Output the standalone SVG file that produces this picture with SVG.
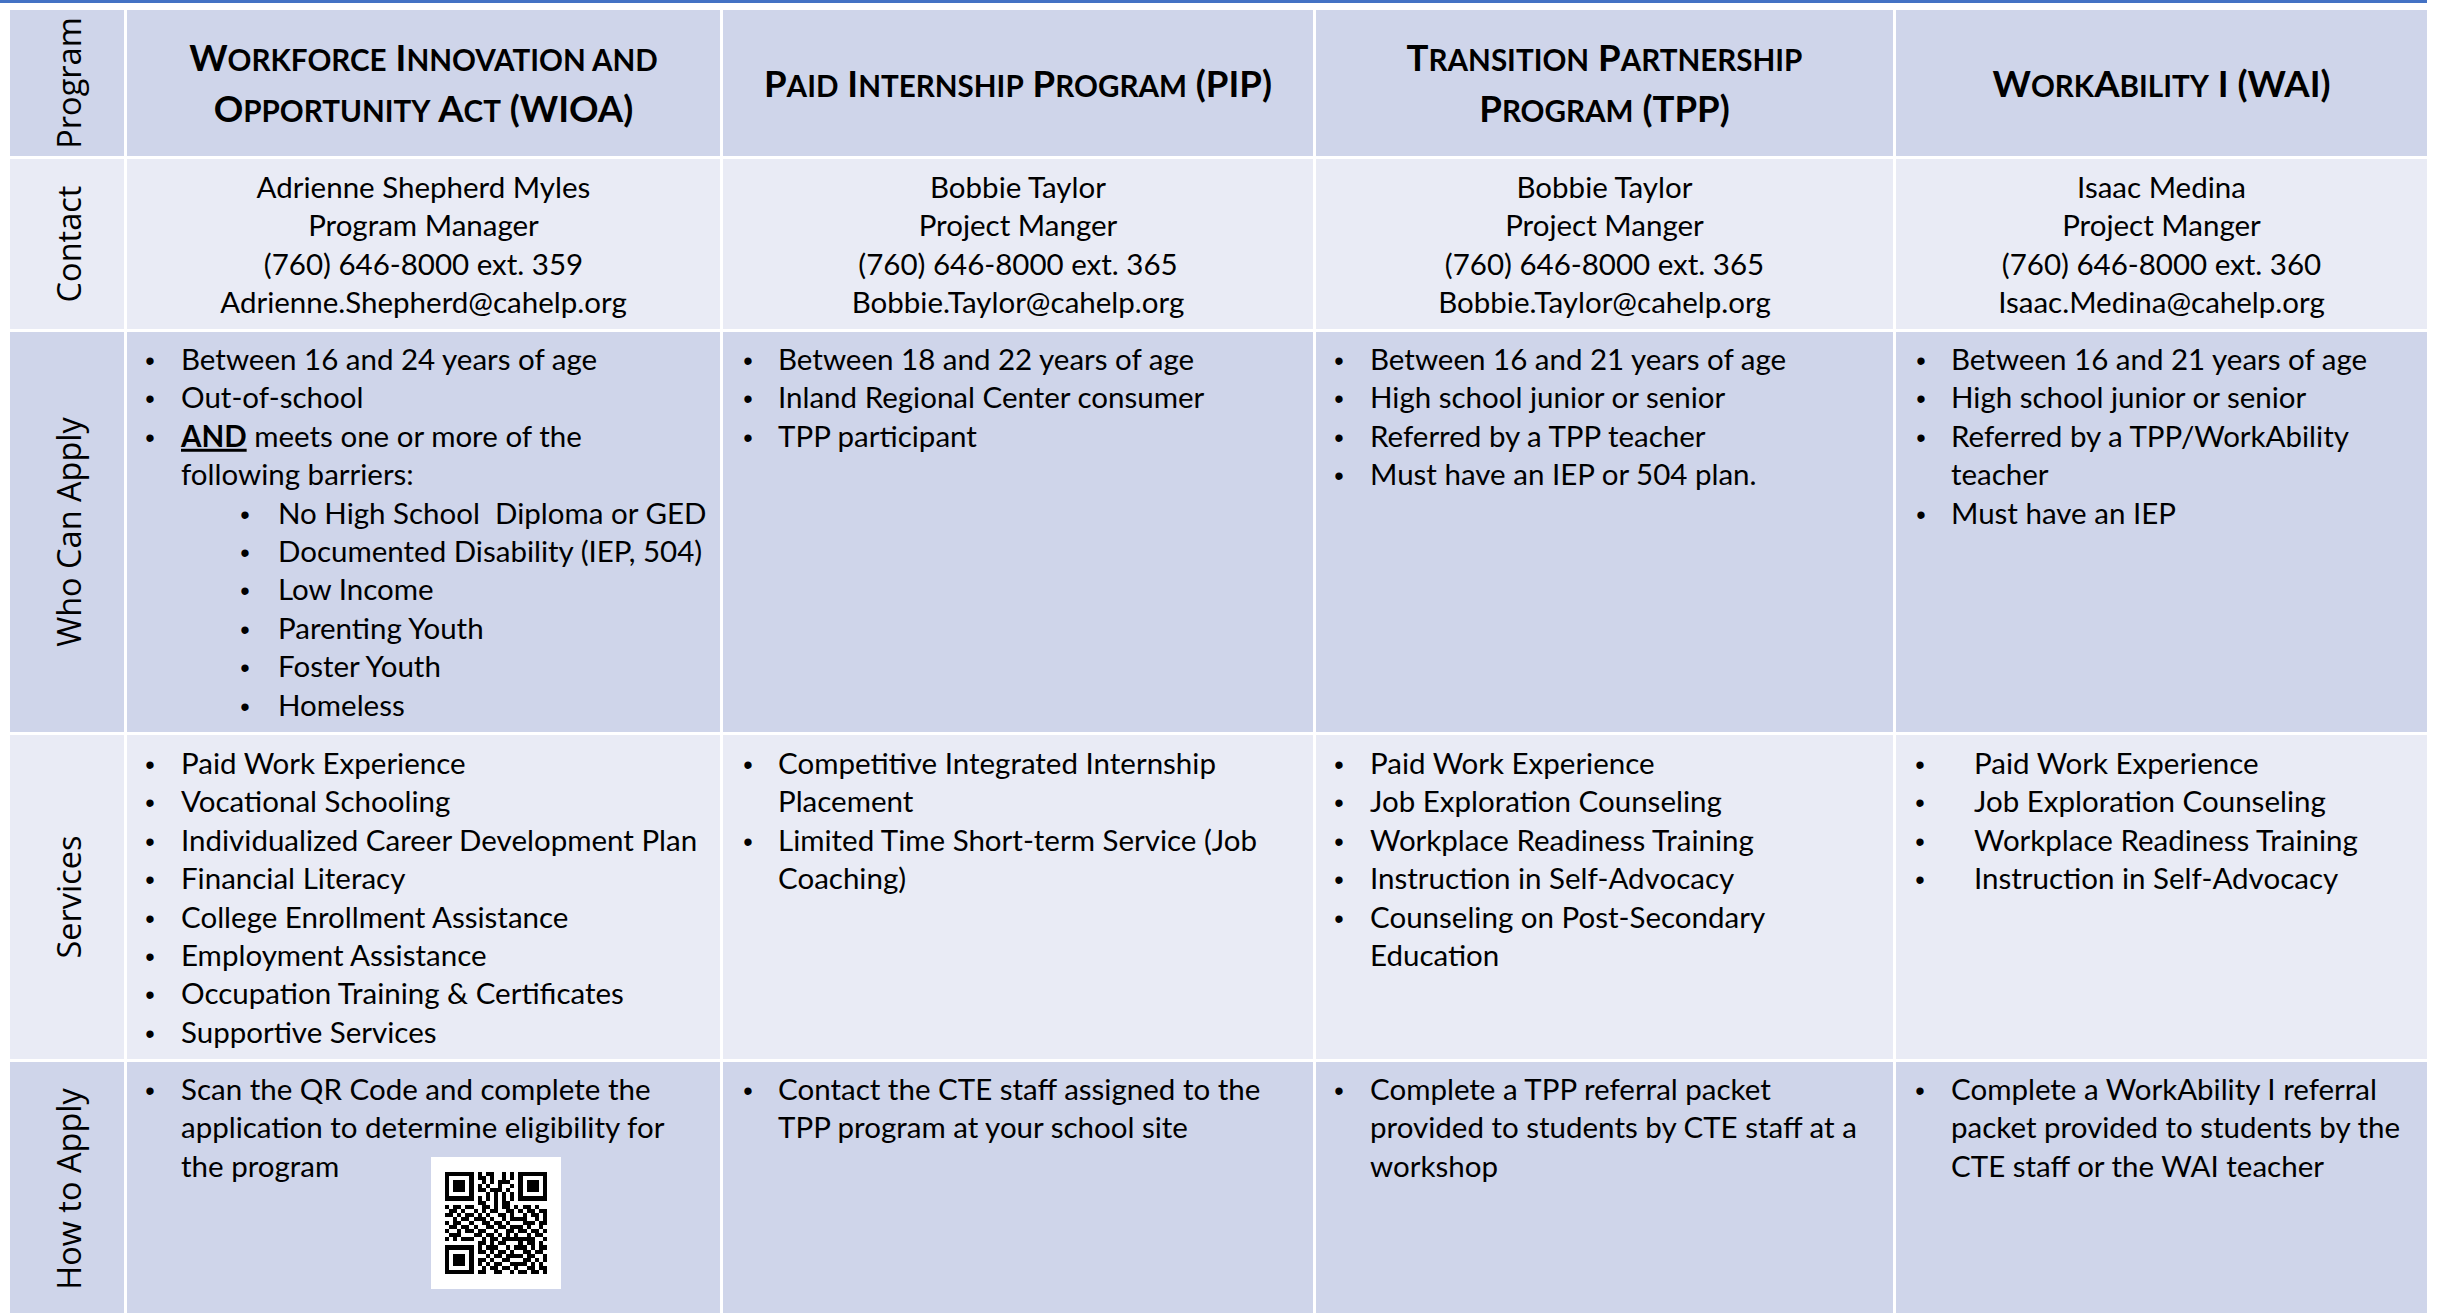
<svg xmlns="http://www.w3.org/2000/svg" width="2438" height="1313" viewBox="0 0 2438 1313">
<style>
.dk{fill:#CFD5EA}
.lt{fill:#E9EBF5}
.t{font-family:Lato,"Liberation Sans",sans-serif;font-size:29.5px;fill:#000}
.c{text-anchor:middle}
.b{font-family:"Liberation Sans",Arial,sans-serif;font-size:27px;fill:#000;text-anchor:middle}
.h{font-family:Lato,"Liberation Sans",sans-serif;font-weight:700;font-size:36.6px;fill:#000;text-anchor:middle}
.sc{font-size:29.6px}
.lbl{font-family:"Open Sans","DejaVu Sans",sans-serif;font-size:32.5px;fill:#000;text-anchor:middle}
.u{font-weight:700;text-decoration:underline}
</style>
<rect x="0" y="0" width="2438" height="1313" fill="#FFFFFF"/>
<rect x="0" y="0" width="2427" height="3" fill="#4472C4"/>

<g id="row-program">
  <rect class="dk" x="10" y="10" width="114" height="146"/>
  <text class="lbl" transform="translate(81,83) rotate(-90)">Program</text>
</g>
<g id="hdr-wioa">
  <rect class="dk" x="127" y="10" width="593" height="146"/>
  <text class="h" x="423.5" y="71">W<tspan class="sc">ORKFORCE</tspan> I<tspan class="sc">NNOVATION AND</tspan></text>
  <text class="h" x="423.5" y="122">O<tspan class="sc">PPORTUNITY</tspan> A<tspan class="sc">CT</tspan> (WIOA)</text>
</g>
<g id="hdr-pip">
  <rect class="dk" x="723" y="10" width="590" height="146"/>
  <text class="h" x="1018" y="97">P<tspan class="sc">AID</tspan> I<tspan class="sc">NTERNSHIP</tspan> P<tspan class="sc">ROGRAM</tspan> (PIP)</text>
</g>
<g id="hdr-tpp">
  <rect class="dk" x="1316" y="10" width="577" height="146"/>
  <text class="h" x="1604.5" y="71">T<tspan class="sc">RANSITION</tspan> P<tspan class="sc">ARTNERSHIP</tspan></text>
  <text class="h" x="1604.5" y="122">P<tspan class="sc">ROGRAM</tspan> (TPP)</text>
</g>
<g id="hdr-wai">
  <rect class="dk" x="1896" y="10" width="531" height="146"/>
  <text class="h" x="2161.5" y="97">W<tspan class="sc">ORK</tspan>A<tspan class="sc">BILITY</tspan> I (WAI)</text>
</g>

<g id="row-contact">
  <rect class="lt" x="10" y="159" width="114" height="170"/>
  <text class="lbl" transform="translate(81,244) rotate(-90)">Contact</text>
</g>
<g id="contact-wioa">
  <rect class="lt" x="127" y="159" width="593" height="170"/>
  <text class="t c" x="423.5" y="198">Adrienne Shepherd Myles</text>
  <text class="t c" x="423.5" y="236.4">Program Manager</text>
  <text class="t c" x="423.5" y="274.8">(760) 646-8000 ext. 359</text>
  <text class="t c" x="423.5" y="313.2">Adrienne.Shepherd@cahelp.org</text>
</g>
<g id="contact-pip">
  <rect class="lt" x="723" y="159" width="590" height="170"/>
  <text class="t c" x="1018" y="198">Bobbie Taylor</text>
  <text class="t c" x="1018" y="236.4">Project Manger</text>
  <text class="t c" x="1018" y="274.8">(760) 646-8000 ext. 365</text>
  <text class="t c" x="1018" y="313.2">Bobbie.Taylor@cahelp.org</text>
</g>
<g id="contact-tpp">
  <rect class="lt" x="1316" y="159" width="577" height="170"/>
  <text class="t c" x="1604.5" y="198">Bobbie Taylor</text>
  <text class="t c" x="1604.5" y="236.4">Project Manger</text>
  <text class="t c" x="1604.5" y="274.8">(760) 646-8000 ext. 365</text>
  <text class="t c" x="1604.5" y="313.2">Bobbie.Taylor@cahelp.org</text>
</g>
<g id="contact-wai">
  <rect class="lt" x="1896" y="159" width="531" height="170"/>
  <text class="t c" x="2161.5" y="198">Isaac Medina</text>
  <text class="t c" x="2161.5" y="236.4">Project Manger</text>
  <text class="t c" x="2161.5" y="274.8">(760) 646-8000 ext. 360</text>
  <text class="t c" x="2161.5" y="313.2">Isaac.Medina@cahelp.org</text>
</g>

<g id="row-who">
  <rect class="dk" x="10" y="332" width="114" height="400"/>
  <text class="lbl" transform="translate(81,532) rotate(-90)">Who Can Apply</text>
</g>
<g id="who-wioa">
  <rect class="dk" x="127" y="332" width="593" height="400"/>
  <text class="b" x="150" y="370">•</text><text class="t" x="181" y="370">Between 16 and 24 years of age</text>
  <text class="b" x="150" y="408.4">•</text><text class="t" x="181" y="408.4">Out-of-school</text>
  <text class="b" x="150" y="446.8">•</text><text class="t" x="181" y="446.8"><tspan class="u">AND</tspan> meets one or more of the</text>
  <text class="t" x="181" y="485.2">following barriers:</text>
  <text class="b" x="245" y="523.6">•</text><text class="t" x="278" y="523.6" xml:space="preserve">No High School  Diploma or GED</text>
  <text class="b" x="245" y="562">•</text><text class="t" x="278" y="562">Documented Disability (IEP, 504)</text>
  <text class="b" x="245" y="600.4">•</text><text class="t" x="278" y="600.4">Low Income</text>
  <text class="b" x="245" y="638.8">•</text><text class="t" x="278" y="638.8">Parenting Youth</text>
  <text class="b" x="245" y="677.2">•</text><text class="t" x="278" y="677.2">Foster Youth</text>
  <text class="b" x="245" y="715.6">•</text><text class="t" x="278" y="715.6">Homeless</text>
</g>
<g id="who-pip">
  <rect class="dk" x="723" y="332" width="590" height="400"/>
  <text class="b" x="748" y="370">•</text><text class="t" x="778" y="370">Between 18 and 22 years of age</text>
  <text class="b" x="748" y="408.4">•</text><text class="t" x="778" y="408.4">Inland Regional Center consumer</text>
  <text class="b" x="748" y="446.8">•</text><text class="t" x="778" y="446.8">TPP participant</text>
</g>
<g id="who-tpp">
  <rect class="dk" x="1316" y="332" width="577" height="400"/>
  <text class="b" x="1339" y="370">•</text><text class="t" x="1370" y="370">Between 16 and 21 years of age</text>
  <text class="b" x="1339" y="408.4">•</text><text class="t" x="1370" y="408.4">High school junior or senior</text>
  <text class="b" x="1339" y="446.8">•</text><text class="t" x="1370" y="446.8">Referred by a TPP teacher</text>
  <text class="b" x="1339" y="485.2">•</text><text class="t" x="1370" y="485.2">Must have an IEP or 504 plan.</text>
</g>
<g id="who-wai">
  <rect class="dk" x="1896" y="332" width="531" height="400"/>
  <text class="b" x="1921" y="370">•</text><text class="t" x="1951" y="370">Between 16 and 21 years of age</text>
  <text class="b" x="1921" y="408.4">•</text><text class="t" x="1951" y="408.4">High school junior or senior</text>
  <text class="b" x="1921" y="446.8">•</text><text class="t" x="1951" y="446.8">Referred by a TPP/WorkAbility</text>
  <text class="t" x="1951" y="485.2">teacher</text>
  <text class="b" x="1921" y="523.6">•</text><text class="t" x="1951" y="523.6">Must have an IEP</text>
</g>

<g id="row-services">
  <rect class="lt" x="10" y="735" width="114" height="324"/>
  <text class="lbl" transform="translate(81,897) rotate(-90)">Services</text>
</g>
<g id="svc-wioa">
  <rect class="lt" x="127" y="735" width="593" height="324"/>
  <text class="b" x="150" y="774">•</text><text class="t" x="181" y="774">Paid Work Experience</text>
  <text class="b" x="150" y="812.4">•</text><text class="t" x="181" y="812.4">Vocational Schooling</text>
  <text class="b" x="150" y="850.8">•</text><text class="t" x="181" y="850.8">Individualized Career Development Plan</text>
  <text class="b" x="150" y="889.2">•</text><text class="t" x="181" y="889.2">Financial Literacy</text>
  <text class="b" x="150" y="927.6">•</text><text class="t" x="181" y="927.6">College Enrollment Assistance</text>
  <text class="b" x="150" y="966">•</text><text class="t" x="181" y="966">Employment Assistance</text>
  <text class="b" x="150" y="1004.4">•</text><text class="t" x="181" y="1004.4">Occupation Training &amp; Certificates</text>
  <text class="b" x="150" y="1042.8">•</text><text class="t" x="181" y="1042.8">Supportive Services</text>
</g>
<g id="svc-pip">
  <rect class="lt" x="723" y="735" width="590" height="324"/>
  <text class="b" x="748" y="774">•</text><text class="t" x="778" y="774">Competitive Integrated Internship</text>
  <text class="t" x="778" y="812.4">Placement</text>
  <text class="b" x="748" y="850.8">•</text><text class="t" x="778" y="850.8">Limited Time Short-term Service (Job</text>
  <text class="t" x="778" y="889.2">Coaching)</text>
</g>
<g id="svc-tpp">
  <rect class="lt" x="1316" y="735" width="577" height="324"/>
  <text class="b" x="1339" y="774">•</text><text class="t" x="1370" y="774">Paid Work Experience</text>
  <text class="b" x="1339" y="812.4">•</text><text class="t" x="1370" y="812.4">Job Exploration Counseling</text>
  <text class="b" x="1339" y="850.8">•</text><text class="t" x="1370" y="850.8">Workplace Readiness Training</text>
  <text class="b" x="1339" y="889.2">•</text><text class="t" x="1370" y="889.2">Instruction in Self-Advocacy</text>
  <text class="b" x="1339" y="927.6">•</text><text class="t" x="1370" y="927.6">Counseling on Post-Secondary</text>
  <text class="t" x="1370" y="966">Education</text>
</g>
<g id="svc-wai">
  <rect class="lt" x="1896" y="735" width="531" height="324"/>
  <text class="b" x="1920" y="774">•</text><text class="t" x="1974" y="774">Paid Work Experience</text>
  <text class="b" x="1920" y="812.4">•</text><text class="t" x="1974" y="812.4">Job Exploration Counseling</text>
  <text class="b" x="1920" y="850.8">•</text><text class="t" x="1974" y="850.8">Workplace Readiness Training</text>
  <text class="b" x="1920" y="889.2">•</text><text class="t" x="1974" y="889.2">Instruction in Self-Advocacy</text>
</g>

<g id="row-how">
  <rect class="dk" x="10" y="1062" width="114" height="251"/>
  <text class="lbl" transform="translate(81,1189) rotate(-90)">How to Apply</text>
</g>
<g id="how-wioa">
  <rect class="dk" x="127" y="1062" width="593" height="251"/>
  <text class="b" x="150" y="1100">•</text><text class="t" x="181" y="1100">Scan the QR Code and complete the</text>
  <text class="t" x="181" y="1138.4">application to determine eligibility for</text>
  <text class="t" x="181" y="1176.8">the program</text>
  <rect x="431" y="1157" width="130" height="132" fill="#FFFFFF"/>
  <path transform="translate(445,1172) scale(4.08)" shape-rendering="crispEdges" fill="#000" d="M0 0h7v1h-7zM8 0h1v1h-1zM10 0h2v1h-2zM14 0h1v1h-1zM16 0h1v1h-1zM18 0h7v1h-7zM0 1h1v1h-1zM6 1h1v1h-1zM8 1h2v1h-2zM11 1h1v1h-1zM14 1h1v1h-1zM16 1h1v1h-1zM18 1h1v1h-1zM24 1h1v1h-1zM0 2h1v1h-1zM2 2h3v1h-3zM6 2h1v1h-1zM9 2h1v1h-1zM11 2h1v1h-1zM13 2h3v1h-3zM18 2h1v1h-1zM20 2h3v1h-3zM24 2h1v1h-1zM0 3h1v1h-1zM2 3h3v1h-3zM6 3h1v1h-1zM8 3h1v1h-1zM10 3h1v1h-1zM13 3h1v1h-1zM16 3h1v1h-1zM18 3h1v1h-1zM20 3h3v1h-3zM24 3h1v1h-1zM0 4h1v1h-1zM2 4h3v1h-3zM6 4h1v1h-1zM8 4h2v1h-2zM11 4h3v1h-3zM15 4h1v1h-1zM18 4h1v1h-1zM20 4h3v1h-3zM24 4h1v1h-1zM0 5h1v1h-1zM6 5h1v1h-1zM10 5h1v1h-1zM12 5h1v1h-1zM14 5h1v1h-1zM16 5h1v1h-1zM18 5h1v1h-1zM24 5h1v1h-1zM0 6h7v1h-7zM8 6h1v1h-1zM10 6h1v1h-1zM12 6h1v1h-1zM14 6h1v1h-1zM16 6h1v1h-1zM18 6h7v1h-7zM8 7h2v1h-2zM12 7h1v1h-1zM14 7h2v1h-2zM0 8h1v1h-1zM2 8h2v1h-2zM5 8h2v1h-2zM9 8h2v1h-2zM12 8h1v1h-1zM14 8h2v1h-2zM17 8h1v1h-1zM19 8h2v1h-2zM22 8h1v1h-1zM1 9h2v1h-2zM4 9h1v1h-1zM7 9h1v1h-1zM9 9h1v1h-1zM11 9h2v1h-2zM15 9h2v1h-2zM18 9h1v1h-1zM20 9h2v1h-2zM23 9h2v1h-2zM0 10h2v1h-2zM3 10h1v1h-1zM5 10h2v1h-2zM8 10h1v1h-1zM10 10h1v1h-1zM13 10h2v1h-2zM16 10h1v1h-1zM19 10h1v1h-1zM21 10h2v1h-2zM24 10h1v1h-1zM2 11h1v1h-1zM4 11h2v1h-2zM7 11h3v1h-3zM11 11h1v1h-1zM14 11h1v1h-1zM16 11h4v1h-4zM22 11h1v1h-1zM24 11h1v1h-1zM0 12h1v1h-1zM2 12h2v1h-2zM6 12h1v1h-1zM9 12h2v1h-2zM12 12h2v1h-2zM15 12h1v1h-1zM19 12h3v1h-3zM23 12h2v1h-2zM1 13h2v1h-2zM4 13h2v1h-2zM7 13h1v1h-1zM10 13h2v1h-2zM13 13h2v1h-2zM16 13h3v1h-3zM20 13h1v1h-1zM23 13h1v1h-1zM0 14h1v1h-1zM3 14h1v1h-1zM5 14h2v1h-2zM8 14h2v1h-2zM12 14h1v1h-1zM15 14h2v1h-2zM18 14h2v1h-2zM21 14h2v1h-2zM24 14h1v1h-1zM1 15h3v1h-3zM7 15h2v1h-2zM10 15h2v1h-2zM13 15h1v1h-1zM15 15h1v1h-1zM17 15h1v1h-1zM20 15h1v1h-1zM22 15h2v1h-2zM0 16h1v1h-1zM2 16h1v1h-1zM4 16h3v1h-3zM9 16h1v1h-1zM11 16h2v1h-2zM14 16h8v1h-8zM24 16h1v1h-1zM8 17h2v1h-2zM11 17h1v1h-1zM13 17h2v1h-2zM18 17h1v1h-1zM20 17h2v1h-2zM23 17h1v1h-1zM0 18h7v1h-7zM8 18h1v1h-1zM10 18h3v1h-3zM15 18h1v1h-1zM17 18h3v1h-3zM21 18h1v1h-1zM23 18h2v1h-2zM0 19h1v1h-1zM6 19h1v1h-1zM8 19h2v1h-2zM11 19h1v1h-1zM13 19h2v1h-2zM16 19h1v1h-1zM19 19h2v1h-2zM22 19h2v1h-2zM0 20h1v1h-1zM2 20h3v1h-3zM6 20h1v1h-1zM10 20h1v1h-1zM12 20h2v1h-2zM15 20h4v1h-4zM20 20h2v1h-2zM24 20h1v1h-1zM0 21h1v1h-1zM2 21h3v1h-3zM6 21h1v1h-1zM8 21h2v1h-2zM11 21h1v1h-1zM14 21h2v1h-2zM19 21h2v1h-2zM22 21h1v1h-1zM24 21h1v1h-1zM0 22h1v1h-1zM2 22h3v1h-3zM6 22h1v1h-1zM8 22h1v1h-1zM10 22h1v1h-1zM12 22h2v1h-2zM16 22h4v1h-4zM21 22h1v1h-1zM23 22h1v1h-1zM0 23h1v1h-1zM6 23h1v1h-1zM9 23h1v1h-1zM11 23h2v1h-2zM14 23h2v1h-2zM17 23h1v1h-1zM20 23h2v1h-2zM23 23h2v1h-2zM0 24h7v1h-7zM8 24h2v1h-2zM12 24h2v1h-2zM16 24h1v1h-1zM18 24h2v1h-2zM21 24h2v1h-2zM24 24h1v1h-1z"/>
</g>
<g id="how-pip">
  <rect class="dk" x="723" y="1062" width="590" height="251"/>
  <text class="b" x="748" y="1100">•</text><text class="t" x="778" y="1100">Contact the CTE staff assigned to the</text>
  <text class="t" x="778" y="1138.4">TPP program at your school site</text>
</g>
<g id="how-tpp">
  <rect class="dk" x="1316" y="1062" width="577" height="251"/>
  <text class="b" x="1339" y="1100">•</text><text class="t" x="1370" y="1100">Complete a TPP referral packet</text>
  <text class="t" x="1370" y="1138.4">provided to students by CTE staff at a</text>
  <text class="t" x="1370" y="1176.8">workshop</text>
</g>
<g id="how-wai">
  <rect class="dk" x="1896" y="1062" width="531" height="251"/>
  <text class="b" x="1920" y="1100">•</text><text class="t" x="1951" y="1100">Complete a WorkAbility I referral</text>
  <text class="t" x="1951" y="1138.4">packet provided to students by the</text>
  <text class="t" x="1951" y="1176.8">CTE staff or the WAI teacher</text>
</g>
<g id="connectors"/>
</svg>
